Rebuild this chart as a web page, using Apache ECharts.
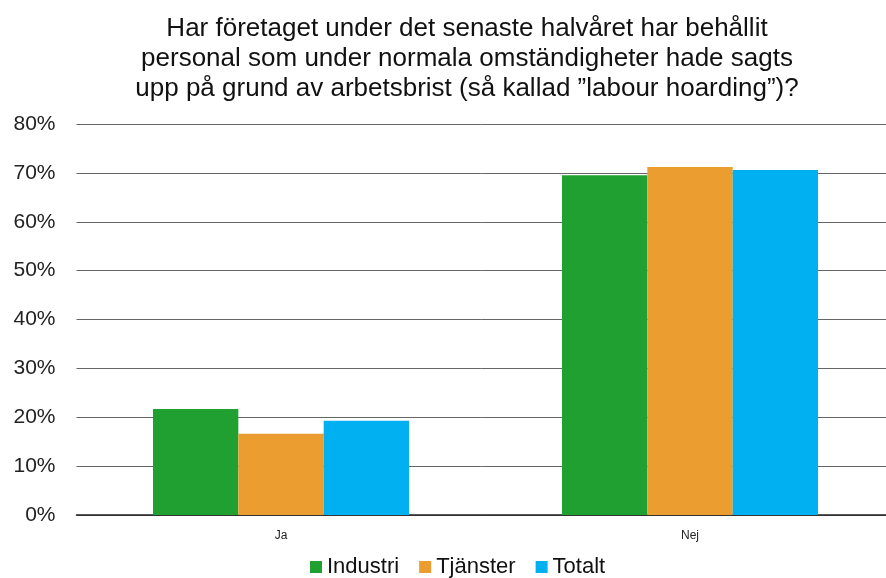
<!DOCTYPE html>
<html>
<head>
<meta charset="utf-8">
<script src="https://cdn.jsdelivr.net/npm/echarts@6/dist/echarts.min.js"></script>
<style>
  html, body { margin: 0; padding: 0; background: #fff; }
  #chart { width: 886px; height: 578px; }
</style>
</head>
<body>
<div id="chart"></div>
<script>
// kategorier och värden (andel i %)
const categories = ['Ja', 'Nej'];
const industri = [21.7, 69.5];
const tjanster = [16.6, 71.2];
const totalt = [19.3, 70.6];
const yTicks = [0, 10, 20, 30, 40, 50, 60, 70, 80];

const chart = echarts.init(document.getElementById('chart'));

const font = 'Liberation Sans, Arial, sans-serif';

const option = {
  animation: false,
  title: {
    text: 'Har företaget under det senaste halvåret har behållit\npersonal som under normala omständigheter hade sagts\nupp på grund av arbetsbrist (så kallad ”labour hoarding”)?',
    left: 462,
    textAlign: 'center',
    top: 9,
    textStyle: {
      fontFamily: font,
      fontSize: 26,
      fontWeight: 'normal',
      color: '#111',
      lineHeight: 30
    }
  },
  legend: {
    top: 556,
    left: 310,
    itemWidth: 12,
    itemHeight: 12,
    itemGap: 20,
    icon: 'rect',
    padding: 0,
    textStyle: { fontFamily: font, fontSize: 22, color: '#111' },
    data: ['Industri', 'Tjänster', 'Totalt']
  },
  // rutnätet går något utanför högerkanten som i originalet
  grid: { left: 76.5, right: -8.5, top: 124, bottom: 63, outerBoundsMode: 'none', containLabel: false },
  xAxis: {
    type: 'category',
    data: categories,
    axisLine: { lineStyle: { color: '#222', width: 1.5 } },
    axisTick: { show: false },
    axisLabel: { fontFamily: font, fontSize: 12, color: '#222', margin: 15 }
  },
  yAxis: {
    type: 'value',
    min: yTicks[0],
    max: yTicks[yTicks.length - 1],
    interval: 10,
    axisLine: { show: false },
    axisTick: { show: false },
    splitLine: { lineStyle: { color: '#666', width: 1 } },
    axisLabel: {
      fontFamily: font,
      fontSize: 21,
      color: '#222',
      margin: 21,
      formatter: v => v + '%'
    }
  },
  series: [
    { name: 'Industri', type: 'bar', data: industri, itemStyle: { color: '#21a032' }, barGap: '0%', barCategoryGap: '37.4%' },
    { name: 'Tjänster', type: 'bar', data: tjanster, itemStyle: { color: '#eb9e2f' } },
    { name: 'Totalt', type: 'bar', data: totalt, itemStyle: { color: '#00b0f0' } }
  ]
};

chart.setOption(option);
</script>
</body>
</html>
